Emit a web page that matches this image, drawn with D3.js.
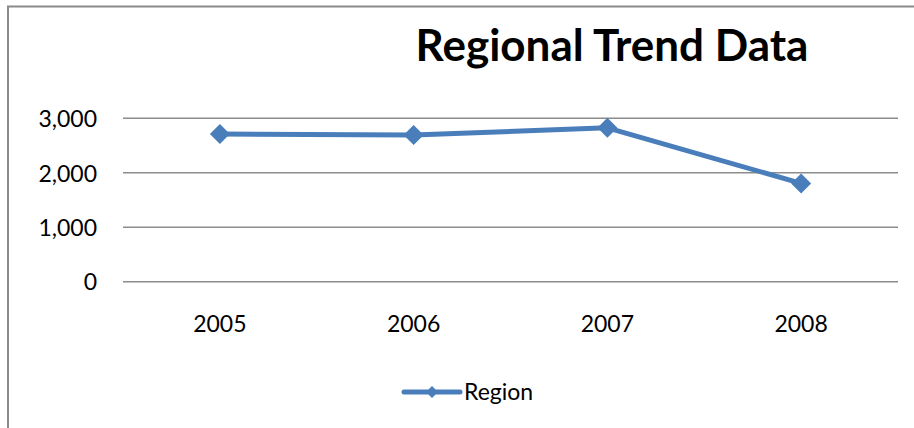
<!DOCTYPE html>
<html>
<head>
<meta charset="utf-8">
<script src="https://cdn.jsdelivr.net/npm/d3@7"></script>
<style>
  body { margin: 0; background: #fff; }
  svg { display: block; font-family: Lato, "Open Sans", sans-serif; }
</style>
</head>
<body>
<div id="chart"></div>
<script>
// regional trend chart

const width = 914;
const height = 428;

const years = ["2005", "2006", "2007", "2008"];
const regionValues = [2710, 2695, 2825, 1805];
const yTicks = [0, 1000, 2000, 3000];
const seriesName = "Region";

const blue = "#4a7ebb";

const svg = d3.select("#chart")
    .append("svg")
    .attr("width", width)
    .attr("height", height);

// chart border (cut off on right and bottom)
svg.append("rect")
    .attr("x", 8)
    .attr("y", 6.5)
    .attr("width", 940)
    .attr("height", 460)
    .attr("fill", "none")
    .attr("stroke", "#8a8a8a")
    .attr("stroke-width", 2);

// Title
svg.append("text")
    .attr("x", 612)
    .attr("y", 61)
    .attr("text-anchor", "middle")
    .attr("font-size", "44px")
    .attr("font-weight", "bold")
    .attr("fill", "#000")
    .text("Regional Trend Data");

const x = d3.scaleBand()
    .domain(years)
    .range([123, 898]);

const y = d3.scaleLinear()
    .domain([0, 3000])
    .range([281.7, 118.3]);

// gridlines
svg.append("g")
    .selectAll("line")
    .data(yTicks)
    .join("line")
    .attr("x1", x.range()[0])
    .attr("x2", x.range()[1])
    .attr("y1", d => y(d))
    .attr("y2", d => y(d))
    .attr("stroke", "#8c8c8c")
    .attr("stroke-width", 1.6);

// y axis labels
const yAxis = svg.append("g")
    .attr("transform", "translate(109,0)")
    .call(d3.axisLeft(y).tickValues(yTicks).tickFormat(d3.format(",")).tickSize(0).tickPadding(12));
yAxis.select(".domain").remove();
yAxis.selectAll("text")
    .attr("font-family", "Lato, sans-serif")
    .attr("font-size", "23px")
    .attr("fill", "#000")
    .attr("dy", "0.36em");

// x axis labels
const xAxis = svg.append("g")
    .attr("transform", `translate(0,${y(0)})`)
    .call(d3.axisBottom(x).tickSize(0).tickPadding(34));
xAxis.select(".domain").remove();
xAxis.selectAll("text")
    .attr("font-family", "Lato, sans-serif")
    .attr("font-size", "23px")
    .attr("fill", "#000");

const data = years.map((yr, i) => ({ year: yr, value: regionValues[i] }));

const line = d3.line()
    .x(d => x(d.year) + x.bandwidth() / 2)
    .y(d => y(d.value));

svg.append("path")
    .datum(data)
    .attr("d", line)
    .attr("fill", "none")
    .attr("stroke", blue)
    .attr("stroke-width", 5)
    .attr("stroke-linejoin", "round");

const diamond = d3.symbol().type(d3.symbolSquare).size(200);

svg.append("g")
    .selectAll("path")
    .data(data)
    .join("path")
    .attr("d", diamond)
    .attr("transform", d => `translate(${x(d.year) + x.bandwidth() / 2},${y(d.value)}) rotate(45)`)
    .attr("fill", blue);

// Legend
const legend = svg.append("g").attr("transform", "translate(404,392)");
legend.append("line")
    .attr("x1", 0)
    .attr("x2", 56)
    .attr("stroke", blue)
    .attr("stroke-width", 5)
    .attr("stroke-linecap", "round");
legend.append("path")
    .attr("d", d3.symbol().type(d3.symbolSquare).size(72))
    .attr("transform", "translate(28,0) rotate(45)")
    .attr("fill", blue);
legend.append("text")
    .attr("x", 60)
    .attr("y", 8)
    .attr("font-size", "23px")
    .attr("fill", "#000")
    .text(seriesName);
</script>
</body>
</html>
